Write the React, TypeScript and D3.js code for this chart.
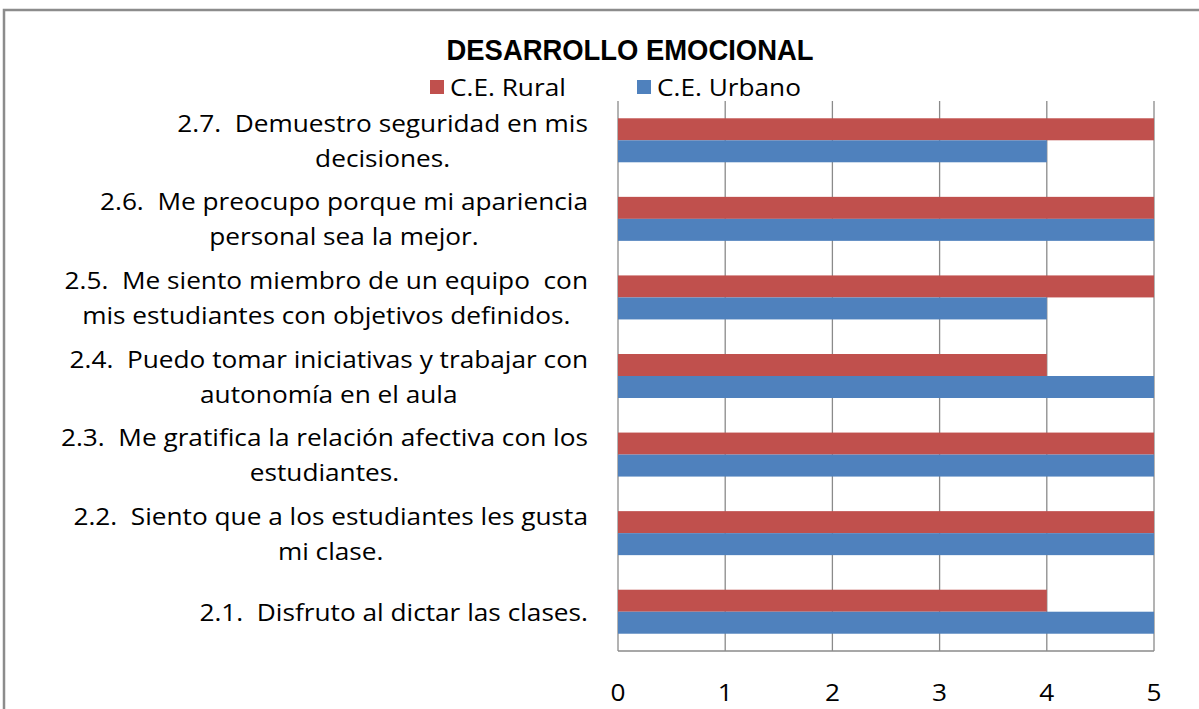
import React, { useEffect, useRef } from 'react';
import * as d3 from 'd3';

// category labels, already split in the lines they wrap to
const categories = ['2.1', '2.2', '2.3', '2.4', '2.5', '2.6', '2.7'];
const labelLines = [
  ['2.1.  Disfruto al dictar las clases.'],
  ['2.2.  Siento que a los estudiantes les gusta', 'mi clase.'],
  ['2.3.  Me gratifica la relación afectiva con los', 'estudiantes.'],
  ['2.4.  Puedo tomar iniciativas y trabajar con', 'autonomía en el aula'],
  ['2.5.  Me siento miembro de un equipo  con', 'mis estudiantes con objetivos definidos.'],
  ['2.6.  Me preocupo porque mi apariencia', 'personal sea la mejor.'],
  ['2.7.  Demuestro seguridad en mis', 'decisiones.'],
];
const seriesNames = ['C.E. Rural', 'C.E. Urbano'];
const rural = [4, 5, 5, 4, 5, 5, 5];
const urbano = [5, 5, 5, 5, 4, 5, 4];
const xTicks = [0, 1, 2, 3, 4, 5];

const colors = ['#C0504D', '#4F81BD'];

const App = () => {
  const ref = useRef<SVGSVGElement>(null);

  useEffect(() => {
    const width = 1199;
    const height = 709;
    const left = 618;
    const right = 1154;
    const top = 101;
    const bottom = 651;
    const font = '"Open Sans", sans-serif';
    const fontSize = 23;
    const stretch = 1.14; // the original text is drawn wide

    const svg = d3.select(ref.current);
    svg.selectAll('*').remove();
    svg.attr('width', width).attr('height', height);

    // widen a text element horizontally
    const widen = (t: any, k = stretch) => {
      const w = (t.node() as SVGTextElement).getComputedTextLength();
      t.attr('textLength', w * k).attr('lengthAdjust', 'spacingAndGlyphs');
      return w * k;
    };

    // chart frame
    svg.append('rect')
      .attr('x', 4).attr('y', 10)
      .attr('width', 1400).attr('height', 900)
      .attr('fill', '#fff')
      .attr('stroke', '#8c8c8c')
      .attr('stroke-width', 2.5);

    const x = d3.scaleLinear().domain([0, 5]).range([left, right]);
    // 2.1 at the bottom, 2.7 at the top
    const y = d3.scaleBand()
      .domain([...categories].reverse())
      .range([top, bottom])
      .paddingInner(0.44)
      .paddingOuter(0.22);
    const sub = d3.scaleBand().domain(seriesNames).range([0, y.bandwidth()]);

    // gridlines
    svg.append('g')
      .selectAll('line')
      .data(xTicks)
      .join('line')
      .attr('x1', (d) => x(d)).attr('x2', (d) => x(d))
      .attr('y1', top).attr('y2', bottom)
      .attr('stroke', '#8a8a8a')
      .attr('stroke-width', 1.3);

    svg.append('line')
      .attr('x1', left).attr('x2', right)
      .attr('y1', bottom).attr('y2', bottom)
      .attr('stroke', '#8a8a8a')
      .attr('stroke-width', 1.3);

    // bars
    const seriesData = [rural, urbano];
    seriesData.forEach((values, si) => {
      svg.append('g')
        .selectAll('rect')
        .data(values)
        .join('rect')
        .attr('x', x(0))
        .attr('y', (d, i) => (y(categories[i]) as number) + (sub(seriesNames[si]) as number))
        .attr('width', (d) => x(d) - x(0))
        .attr('height', sub.bandwidth())
        .attr('fill', colors[si]);
    });

    // tick labels
    xTicks.forEach((d) => {
      const t = svg.append('text')
        .attr('x', x(d))
        .attr('y', 692)
        .attr('text-anchor', 'middle')
        .attr('dominant-baseline', 'central')
        .attr('font-family', font)
        .attr('font-size', fontSize)
        .attr('fill', '#000')
        .text(d);
      widen(t);
    });

    // category labels: block right-aligned next to the axis, lines centred in it
    const lineH = 35;
    categories.forEach((c, i) => {
      const lines = labelLines[i];
      const cy = (y(c) as number) + y.bandwidth() / 2;
      const texts = lines.map((ln, li) => {
        const t = svg.append('text')
          .attr('xml:space', 'preserve')
          .attr('y', cy + (li - (lines.length - 1) / 2) * lineH)
          .attr('dominant-baseline', 'central')
          .attr('text-anchor', 'middle')
          .attr('font-family', font)
          .attr('font-size', fontSize)
          .attr('fill', '#000')
          .style('white-space', 'pre')
          .text(ln);
        return { t, w: widen(t) };
      });
      const maxW = d3.max(texts, (d) => d.w) as number;
      texts.forEach(({ t }) => t.attr('x', 588 - maxW / 2));
    });

    // title
    const title = svg.append('text')
      .attr('x', 630)
      .attr('y', 50)
      .attr('text-anchor', 'middle')
      .attr('dominant-baseline', 'central')
      .attr('font-family', '"Liberation Sans Narrow", sans-serif')
      .attr('font-weight', 'bold')
      .attr('font-size', 29)
      .attr('fill', '#000')
      .text('DESARROLLO EMOCIONAL');
    widen(title, 0.945);

    // legend
    const legendX = [430, 637];
    seriesNames.forEach((name, i) => {
      svg.append('rect')
        .attr('x', legendX[i]).attr('y', 80)
        .attr('width', 14).attr('height', 14)
        .attr('fill', colors[i]);
      const t = svg.append('text')
        .attr('x', legendX[i] + 20)
        .attr('y', 87)
        .attr('dominant-baseline', 'central')
        .attr('font-family', font)
        .attr('font-size', fontSize)
        .attr('fill', '#000')
        .text(name);
      widen(t);
    });
  }, []);

  return <svg ref={ref} style={{ position: 'absolute', left: 0, top: 0 }} />;
};

export default App;
